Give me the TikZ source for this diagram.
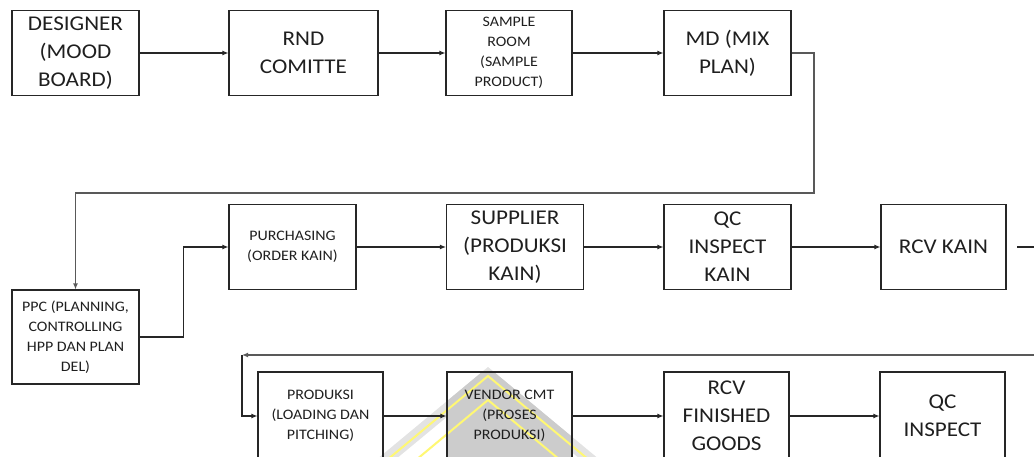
\documentclass[tikz,border=0pt]{standalone}
\usepackage{fontspec}
\setmainfont{Carlito}[FakeStretch=1.1]
\usepackage{tikz}
\usetikzlibrary{positioning, arrows.meta, backgrounds}

\begin{document}
\begin{tikzpicture}[x=1pt, y=-1pt,
  every node/.style={text=black!88},
  box/.style={draw=black!85, line width=1.1pt, minimum width=127pt, minimum height=85pt,
              align=center, inner sep=2pt, font=\fontsize{21}{28}\selectfont},
  sbox/.style={box, font=\fontsize{14.5}{20}\selectfont},
  arr/.style={-{Latex[length=6pt, width=5pt]}, line width=1.1pt, draw=black!85},
  retline/.style={line width=1.4pt, draw=black!65}
]
\useasboundingbox (0,0) rectangle (1034,457);

\node[box] (designer) at (75.5,53) {DESIGNER\\(MOOD\\BOARD)};
\node[box, minimum width=149pt] (rnd) at (303.5,53) {RND\\COMITTE};
\node[sbox, minimum width=126pt] (sample) at (509,53) {SAMPLE\\ROOM\\(SAMPLE\\PRODUCT)};
\node[box] (md) at (727.5,53) {MD (MIX\\PLAN)};

\node[sbox, minimum height=94pt] (ppc) at (75.5,337)
   {PPC (PLANNING,\\CONTROLLING\\HPP DAN PLAN\\DEL)};
\node[sbox] (purch) at (292.5,247) {PURCHASING\\(ORDER KAIN)};
\node[box, minimum width=137pt] (supplier) at (515,247) {SUPPLIER\\(PRODUKSI\\KAIN)};
\node[box] (qckain) at (727.5,247) {QC\\INSPECT\\KAIN};
\node[box, minimum width=125pt] (rcvkain) at (943.5,247) {RCV KAIN};

\node[sbox, minimum width=125pt, minimum height=88pt] (produksi) at (320.5,416)
   {PRODUKSI\\(LOADING DAN\\PITCHING)};
\node[sbox, minimum width=125pt, minimum height=88pt] (vendor) at (509.5,416)
   {VENDOR CMT\\(PROSES\\PRODUKSI)};
\node[box, minimum width=125pt, minimum height=88pt] (rcvfin) at (726.5,416)
   {RCV\\FINISHED\\GOODS};
\node[box, minimum width=125pt, minimum height=88pt] (qcinsp) at (942.5,416)
   {QC\\INSPECT};

\draw[arr] (designer) -- (rnd);
\draw[arr] (rnd) -- (sample);
\draw[arr] (sample) -- (md);
\coordinate (mdturn) at (814,193);
\draw[arr, retline] (md.east) -| (mdturn) -| (ppc.north);

\draw[arr] (ppc.east) -- ++(44,0) |- (purch.west);
\draw[arr] (purch) -- (supplier);
\draw[arr] (supplier) -- (qckain);
\draw[arr] (qckain) -- (rcvkain);
\coordinate (kainout) at (1017,247);
\coordinate (kainend) at (1040,247);
\draw[line width=1.1pt, draw=black!85] (kainout) -- (kainend);

\coordinate (retstart) at (1040,355);
\coordinate (retcorner) at (242,355);
\draw[arr, retline] (retstart) -- (retcorner);
\draw[arr] (retcorner) |- (produksi.west);
\draw[arr] (produksi) -- (vendor);
\draw[arr] (vendor) -- (rcvfin);
\draw[arr] (rcvfin) -- (qcinsp);

\begin{scope}[on background layer]
  \fill[gray!22] (488,367) -- (370,465) -- (606,465) -- cycle;
  \fill[white] (488,383) -- (389,465) -- (587,465) -- cycle;
  \begin{scope}
    \clip (488,367) -- (370,465) -- (606,465) -- cycle;
    \fill[gray!40] (vendor.north west) rectangle (vendor.south east);
  \end{scope}
  \draw[yellow!55, line width=2pt] (381,465) -- (488,376) -- (595,465);
  \draw[yellow!55, line width=2pt] (410,465) -- (488,400) -- (566,465);
\end{scope}
\end{tikzpicture}
\end{document}
